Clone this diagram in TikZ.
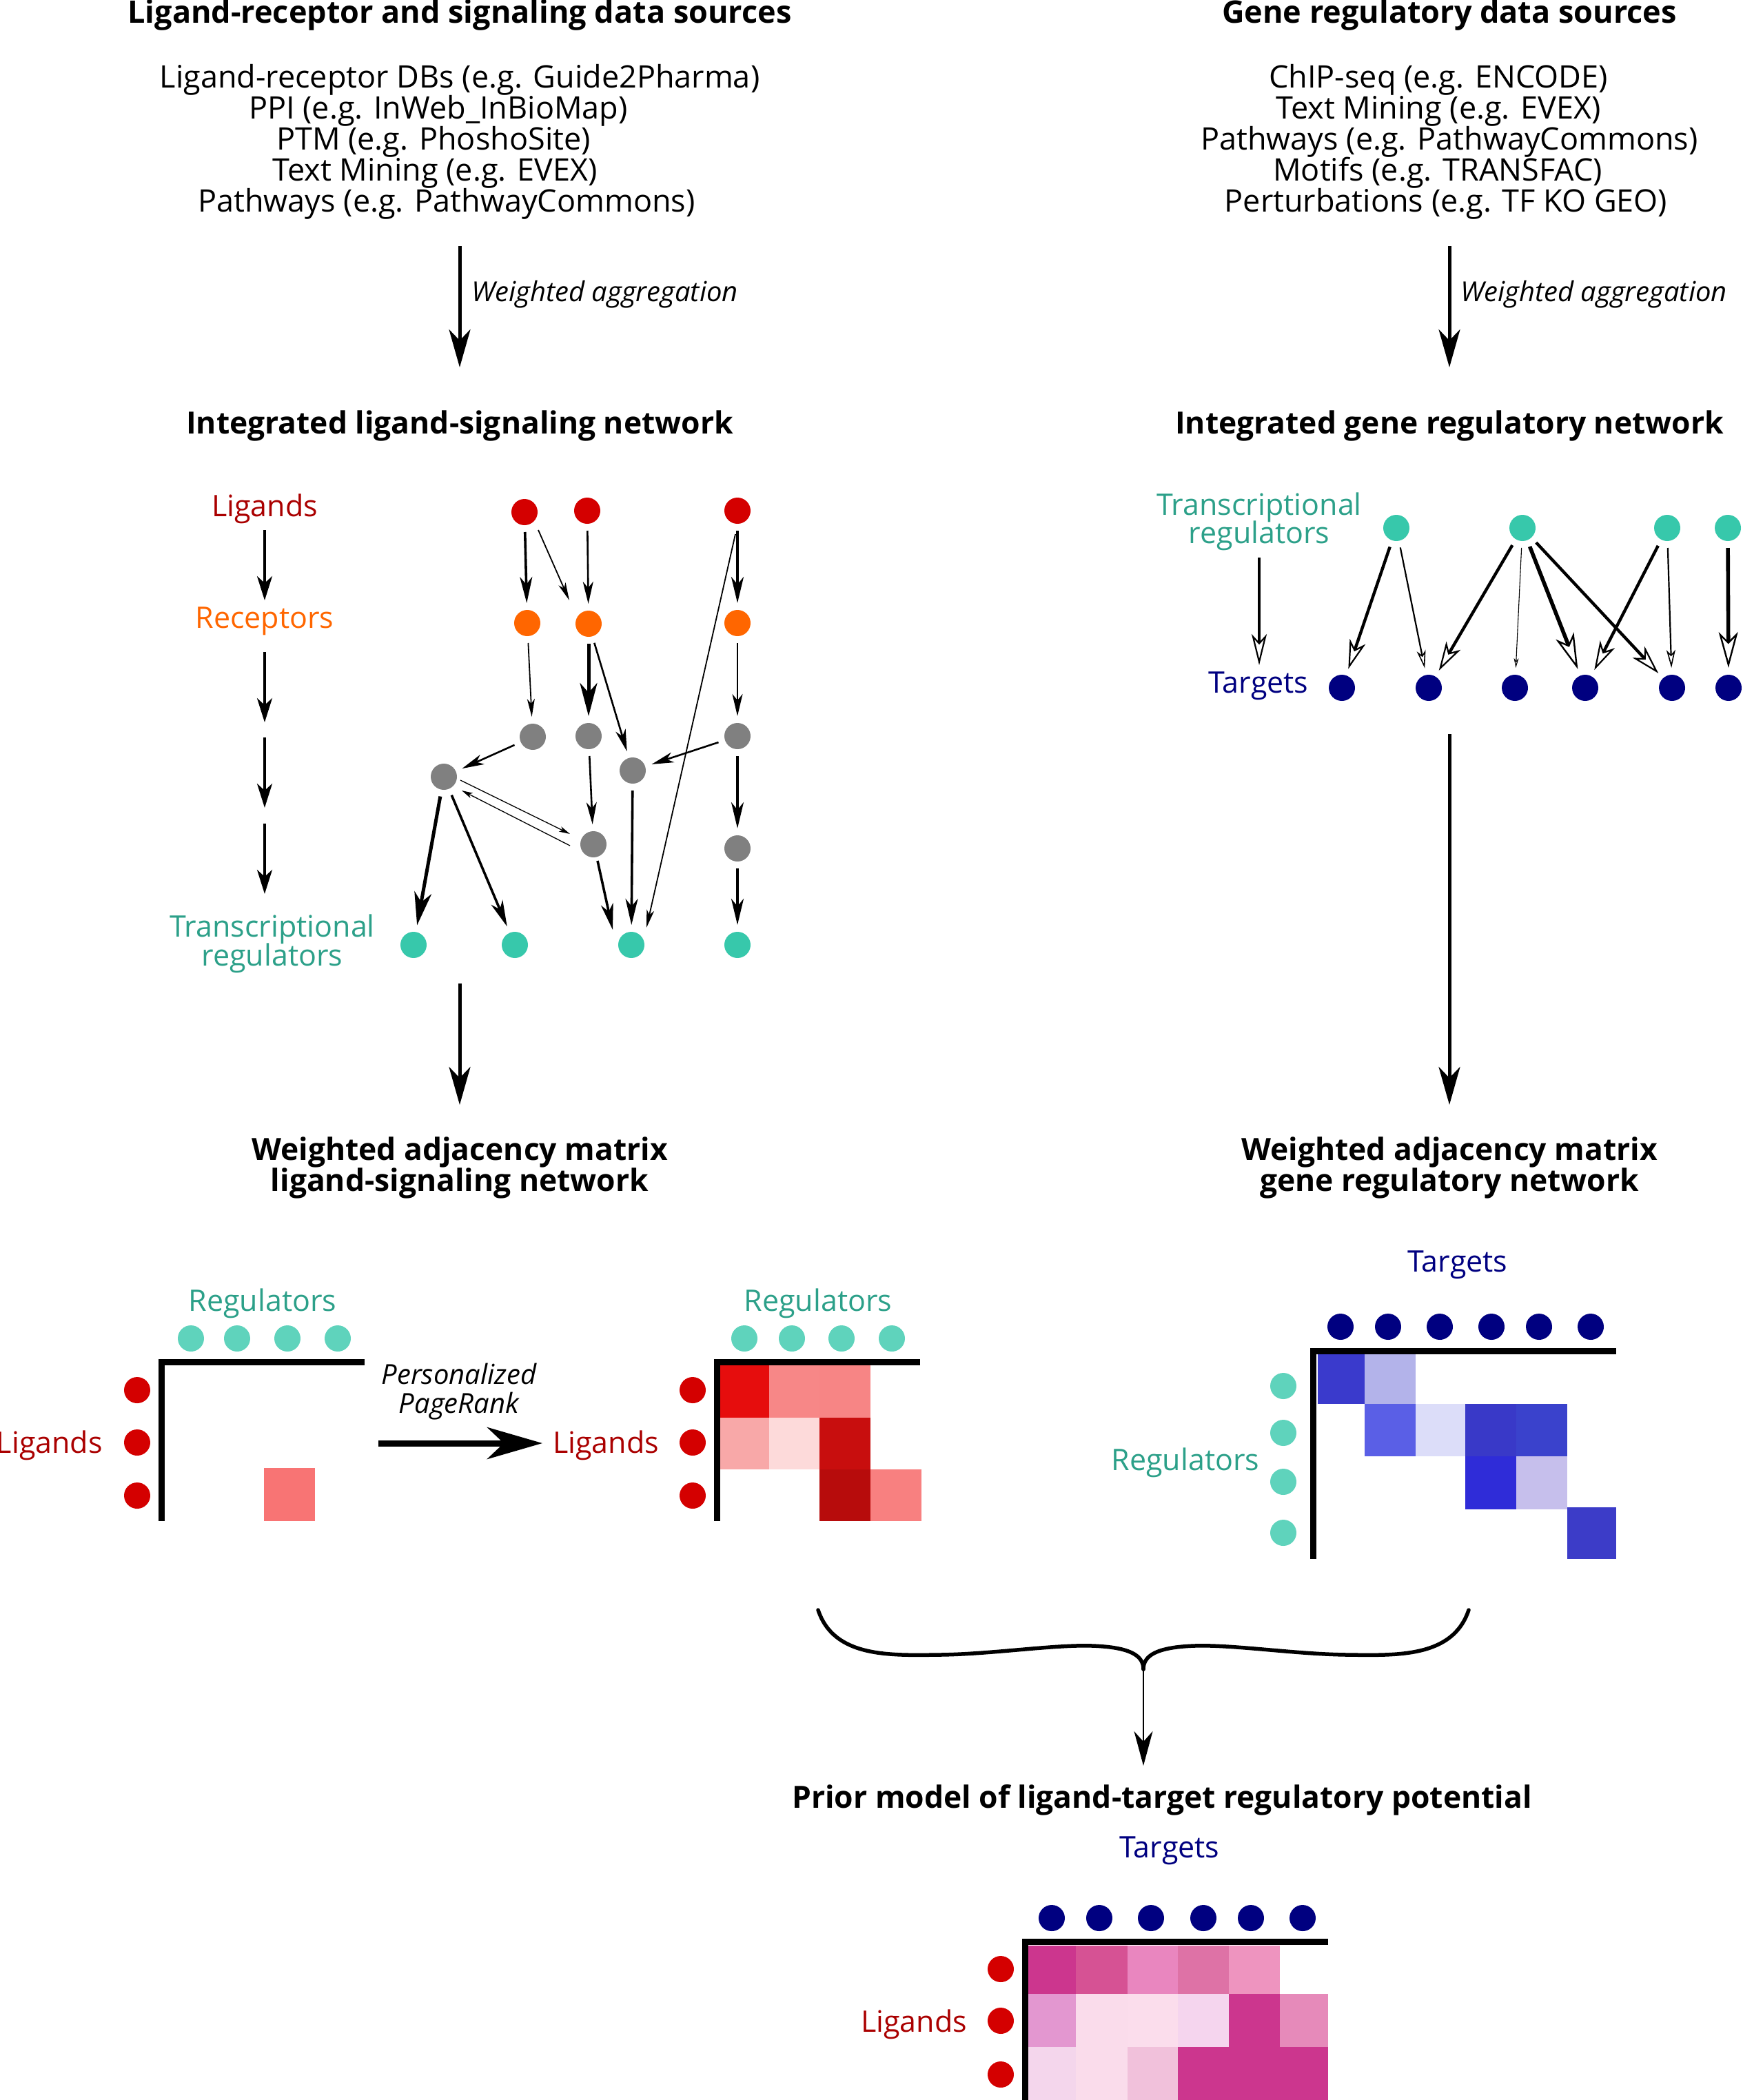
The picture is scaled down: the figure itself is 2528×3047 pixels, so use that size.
\documentclass[tikz,border=0pt]{standalone}
\usepackage{fontspec}
\setmainfont{Open Sans}
\usetikzlibrary{arrows.meta,calc}
\definecolor{lgred}{HTML}{D40000}
\definecolor{lgtxt}{HTML}{AA0000}
\definecolor{rcor}{HTML}{FF6600}
\definecolor{gnode}{HTML}{808080}
\definecolor{tfnode}{HTML}{37C8AB}
\definecolor{tftxt}{HTML}{2CA089}
\definecolor{tfdot}{HTML}{5FD3BC}
\definecolor{navyc}{HTML}{000080}
\newcommand\myfs{\fontsize{40pt}{45pt}\selectfont}
\newcommand\mylist{\fontsize{45pt}{48pt}\selectfont}
\newcommand\myhead{\fontsize{44.4pt}{48pt}\selectfont}
\newcommand\mytitle{\fontsize{45pt}{48pt}\selectfont}
\newcommand\mylab{\fontsize{43pt}{48pt}\selectfont}
\begin{document}
\begin{tikzpicture}[x=1pt,y=-1pt,
 txt/.style={inner sep=0pt, anchor=base, font=\mylist},
 ttl/.style={inner sep=0pt, anchor=base, font=\mytitle\bfseries},
 btxt/.style={inner sep=0pt, anchor=base, font=\myhead\bfseries},
 itxt/.style={inner sep=0pt, anchor=base, font=\myfs\itshape},
 lab/.style={inner sep=0pt, anchor=base, font=\mylab},
 dot/.style={circle, inner sep=0pt, minimum size=38pt, outer sep=10pt},
 mdot/.style={circle, inner sep=0pt, minimum size=38pt},
 bigarrow/.style={line width=5pt, arrows={-Stealth[length=55pt,width=31pt,inset=16pt]}},
 legarrow/.style={line width=3.4pt, arrows={-Stealth[length=35pt,width=22pt,inset=10pt]}},
 e0/.style={line width=1.3pt, arrows={-Stealth[length=16pt,width=8pt,inset=4pt]}},
 e1/.style={line width=1.8pt, arrows={-Stealth[length=26pt,width=11pt,inset=7pt]}},
 e2/.style={line width=2.6pt, arrows={-Stealth[length=32pt,width=15pt,inset=9pt]}},
 e3/.style={line width=3.6pt, arrows={-Stealth[length=38pt,width=18pt,inset=11pt]}},
 e4/.style={line width=5pt, arrows={-Stealth[length=48pt,width=25pt,inset=14pt]}},
 o1/.style={line width=1.1pt, arrows={-Stealth[length=14pt,width=7pt,inset=4pt,fill=white,line width=1.1pt]}},
 o2/.style={line width=2.2pt, arrows={-Stealth[length=26pt,width=13pt,inset=7pt,fill=white,line width=1.6pt]}},
 o3/.style={line width=4.4pt, arrows={-Stealth[length=42pt,width=24pt,inset=12pt,fill=white,line width=2.2pt]}},
 o4/.style={line width=5.6pt, arrows={-Stealth[length=52pt,width=28pt,inset=14pt,fill=white,line width=2.4pt]}},
 axis/.style={line width=9pt, line join=miter}
]
\useasboundingbox (0,0) rectangle (2528,3047);

% ---------- top left sources ----------
\node[ttl] (tl) at (667,33) {Ligand-receptor and signaling data sources};
\node[txt] (l1) at (667,127) {Ligand-receptor DBs (e.g. Guide2Pharma)};
\node[txt] (l2) at (636,172) {PPI (e.g. InWeb\_InBioMap)};
\node[txt] (l3) at (629,217) {PTM (e.g. PhoshoSite)};
\node[txt] (l4) at (631,262) {Text Mining (e.g. EVEX)};
\node[txt] (l5) at (648,307) {Pathways (e.g. PathwayCommons)};
\coordinate (wa1s) at (667,357);
\coordinate (wa1e) at (667,533);
\draw[bigarrow] (wa1s) -- (wa1e);
\node[itxt, anchor=base west] (wa1) at (684,437) {Weighted aggregation};
\node[btxt] (il) at (667,629) {Integrated ligand-signaling network};

% ---------- top right sources ----------
\node[ttl] (tr) at (2103,33) {Gene regulatory data sources};
\node[txt] (r1t) at (2087,127) {ChIP-seq (e.g. ENCODE)};
\node[txt] (r2t) at (2087,172) {Text Mining (e.g. EVEX)};
\node[txt] (r3t) at (2103,217) {Pathways (e.g. PathwayCommons)};
\node[txt] (r4t) at (2086,262) {Motifs (e.g. TRANSFAC)};
\node[txt] (r5t) at (2098,307) {Perturbations (e.g. TF KO GEO)};
\coordinate (wa2s) at (2103,357);
\coordinate (wa2e) at (2103,533);
\draw[bigarrow] (wa2s) -- (wa2e);
\node[itxt, anchor=base west] (wa2) at (2119,437) {Weighted aggregation};
\node[btxt] (ig) at (2103,629) {Integrated gene regulatory network};

% ---------- ligand-signaling network legend ----------
\node[lab, text=lgtxt] (lgL) at (384,749) {Ligands};
\node[lab, text=rcor] (rcL) at (384,911) {Receptors};
\node[lab, text=tftxt] (trL1) at (395,1359) {Transcriptional};
\node[lab, text=tftxt] (trL2) at (395,1401) {regulators};
\coordinate (la1) at (384,769); \coordinate (la2) at (384,871);
\coordinate (la3) at (384,946); \coordinate (la4) at (384,1048);
\coordinate (la5) at (384,1070); \coordinate (la6) at (384,1172);
\coordinate (la7) at (384,1195); \coordinate (la8) at (384,1297);
\draw[legarrow] (la1) -- (la2);
\draw[legarrow] (la3) -- (la4);
\draw[legarrow] (la5) -- (la6);
\draw[legarrow] (la7) -- (la8);

% ---------- ligand-signaling network nodes ----------
\node[dot, fill=lgred] (rd1) at (761,743) {};
\node[dot, fill=lgred] (rd2) at (852,741) {};
\node[dot, fill=lgred] (rd3) at (1070,741) {};
\node[dot, fill=rcor] (or1) at (765,904) {};
\node[dot, fill=rcor] (or2) at (854,905) {};
\node[dot, fill=rcor] (or3) at (1070,904) {};
\node[dot, fill=gnode] (g1) at (773,1069) {};
\node[dot, fill=gnode] (g2) at (854,1068) {};
\node[dot, fill=gnode] (g3) at (1070,1068) {};
\node[dot, fill=gnode] (g4) at (644,1127) {};
\node[dot, fill=gnode] (g5) at (918,1118) {};
\node[dot, fill=gnode] (g6) at (861,1225) {};
\node[dot, fill=gnode] (g7) at (1070,1231) {};
\node[dot, fill=tfnode] (tf1) at (600,1371) {};
\node[dot, fill=tfnode] (tf2) at (747,1371) {};
\node[dot, fill=tfnode] (tf3) at (916,1371) {};
\node[dot, fill=tfnode] (tf4) at (1070,1371) {};

\draw[e3] (rd1) -- (or1);
\draw[e1] ($(rd1)+(20,26)$) -- ($(or2)+(-28,-34)$);
\draw[e2] (rd2) -- (or2);
\draw[e3] (rd3) -- (or3);
\draw[e1] ($(rd3)+(-3,34)$) -- ($(tf3)+(22,-25)$);
\draw[e1] (or1) -- (g1);
\draw[e4] (or2) -- (g2);
\draw[e2] (or2) -- (g5);
\draw[e2] (or3) -- (g3);
\draw[e2] (g1) -- (g4);
\draw[e2] (g3) -- (g5);
\draw[e2] (g2) -- (g6);
\draw[e3] (g3) -- (g7);
\draw[e0] ($(g4)+(24,5)$) -- ($(g6)+(-34,-15)$);
\draw[e0] ($(g6)+(-34,2)$) -- ($(g4)+(26,20)$);
\draw[e4] (g4) -- (tf1);
\draw[e3] (g4) -- (tf2);
\draw[e3] ($(g6)+(6,24)$) -- ($(tf3)+(-27,-22)$);
\draw[e3] (g5) -- (tf3);
\draw[e3] (g7) -- (tf4);

% ---------- gene regulatory network ----------
\node[lab, text=tftxt] (gtr1) at (1827,747) {Transcriptional};
\node[lab, text=tftxt] (gtr2) at (1827,788) {regulators};
\node[lab, text=navyc] (gtg) at (1826,1005) {Targets};
\coordinate (ga1) at (1827,809); \coordinate (ga2) at (1827,965);
\draw[line width=3.6pt, arrows={-Stealth[length=45pt,width=22pt,inset=12pt,fill=white,line width=2.2pt]}] (ga1) -- (ga2);

\node[dot, fill=tfnode] (R1) at (2026,766) {};
\node[dot, fill=tfnode] (R2) at (2209,766) {};
\node[dot, fill=tfnode] (R3) at (2419,766) {};
\node[dot, fill=tfnode] (R4) at (2507,766) {};
\node[dot, fill=navyc] (T1) at (1947,998) {};
\node[dot, fill=navyc] (T2) at (2073,998) {};
\node[dot, fill=navyc] (T3) at (2198,998) {};
\node[dot, fill=navyc] (T4) at (2300,998) {};
\node[dot, fill=navyc] (T5) at (2426,998) {};
\node[dot, fill=navyc] (T6) at (2508,998) {};
\draw[o3] (R1) -- (T1);
\draw[o2] (R1) -- (T2);
\draw[o3] (R2) -- (T2);
\draw[o1] (R2) -- (T3);
\draw[o4] (R2) -- (T4);
\draw[o3] (R2) -- (T5);
\draw[o3] (R3) -- (T4);
\draw[o2] (R3) -- (T5);
\draw[o4] (R4) -- (T6);

% ---------- long arrows ----------
\coordinate (lls) at (667,1427); \coordinate (lle) at (667,1603);
\draw[bigarrow] (lls) -- (lle);
\coordinate (lrs) at (2103,1065); \coordinate (lre) at (2103,1603);
\draw[bigarrow] (lrs) -- (lre);

\node[btxt] (wl1) at (667,1683) {Weighted adjacency matrix};
\node[btxt] (wl2) at (667,1728) {ligand-signaling network};
\node[btxt] (wr1) at (2103,1683) {Weighted adjacency matrix};
\node[btxt] (wr2) at (2103,1728) {gene regulatory network};

% ---------- matrix 1 ----------
\node[lab, text=tftxt] (m1reg) at (381,1902) {Regulators};
\node[lab, text=lgtxt, anchor=base east] (m1lig) at (149,2108) {Ligands};
\foreach \x [count=\i] in {277,344,417,490} \node[mdot, fill=tfdot] (m1c\i) at (\x,1942) {};
\foreach \y [count=\i] in {2017,2093,2170} \node[mdot, fill=lgred] (m1r\i) at (199,\y) {};
\fill[fill={rgb,255:red,248;green,116;blue,116}] (383,2130) rectangle (457,2207);
\draw[axis] (529,1976) -- (234,1976) -- (234,2207);

\coordinate (prs) at (549,2094); \coordinate (pre) at (787,2094);
\draw[line width=9pt, arrows={-Stealth[length=80pt,width=46pt,inset=24pt]}] (prs) -- (pre);
\node[itxt] (pp1) at (666,2008) {Personalized};
\node[itxt] (pp2) at (666,2050) {PageRank};

% ---------- matrix 2 ----------
\node[lab, text=tftxt] (m2reg) at (1187,1902) {Regulators};
\node[lab, text=lgtxt] (m2lig) at (879,2108) {Ligands};
\foreach \x [count=\i] in {1080,1149,1221,1294} \node[mdot, fill=tfdot] (m2c\i) at (\x,1942) {};
\foreach \y [count=\i] in {2017,2093,2170} \node[mdot, fill=lgred] (m2r\i) at (1005,\y) {};
\fill[fill={rgb,255:red,230;green,13;blue,13}] (1044.6,1981) rectangle (1116,2056.7);
\fill[fill={rgb,255:red,247;green,135;blue,135}] (1116,1981) rectangle (1189,2056.7);
\fill[fill={rgb,255:red,247;green,133;blue,133}] (1189,1981) rectangle (1262.5,2056.7);
\fill[fill={rgb,255:red,248;green,168;blue,168}] (1044.6,2056.7) rectangle (1116,2132);
\fill[fill={rgb,255:red,253;green,218;blue,218}] (1116,2056.7) rectangle (1189,2132);
\fill[fill={rgb,255:red,200;green,14;blue,14}] (1189,2056.7) rectangle (1262.5,2132);
\fill[fill={rgb,255:red,183;green,12;blue,12}] (1189,2132) rectangle (1262.5,2207);
\fill[fill={rgb,255:red,248;green,128;blue,128}] (1262.5,2132) rectangle (1336.6,2207);
\draw[axis] (1335,1976) -- (1040,1976) -- (1040,2207);

% ---------- GRN matrix ----------
\node[lab, text=navyc] (m3tg) at (2115,1845) {Targets};
\node[lab, text=tftxt] (m3reg) at (1720,2133) {Regulators};
\foreach \x [count=\i] in {1945,2014,2089,2164,2233,2308} \node[mdot, fill=navyc] (m3c\i) at (\x,1925) {};
\foreach \y [count=\i] in {2011,2079,2150,2224} \node[mdot, fill=tfdot] (m3r\i) at (1862,\y) {};
\fill[fill={rgb,255:red,58;green,58;blue,204}] (1911.6,1965) rectangle (1979.5,2036.7);
\fill[fill={rgb,255:red,179;green,179;blue,234}] (1979.5,1965) rectangle (2053.5,2036.7);
\fill[fill={rgb,255:red,90;green,95;blue,230}] (1979.5,2036.7) rectangle (2053.5,2113);
\fill[fill={rgb,255:red,220;green,221;blue,249}] (2053.5,2036.7) rectangle (2126,2113);
\fill[fill={rgb,255:red,57;green,57;blue,200}] (2126,2036.7) rectangle (2200,2113);
\fill[fill={rgb,255:red,58;green,66;blue,204}] (2200,2036.7) rectangle (2274,2113);
\fill[fill={rgb,255:red,47;green,44;blue,216}] (2126,2113) rectangle (2200,2190);
\fill[fill={rgb,255:red,198;green,191;blue,236}] (2200,2113) rectangle (2274,2190);
\fill[fill={rgb,255:red,60;green,60;blue,200}] (2274,2187) rectangle (2345,2262);
\draw[axis] (2345,1960) -- (1905.5,1960) -- (1905.5,2262);

% ---------- brace ----------
\coordinate (bt) at (1659,2422);
\draw[line width=5.5pt, line cap=round] (1187,2336) .. controls (1210,2405) and (1290,2402) .. (1364,2401)
  .. controls (1440,2400) and (1530,2386) .. (1585,2388)
  .. controls (1640,2390) and (1659,2402) .. (bt);
\draw[line width=5.5pt, line cap=round] (2131,2336) .. controls (2108,2405) and (2028,2402) .. (1954,2401)
  .. controls (1878,2400) and (1788,2386) .. (1733,2388)
  .. controls (1678,2390) and (1659,2402) .. (bt);
\coordinate (be) at (1659,2562);
\draw[line width=2.6pt, arrows={-Stealth[length=50pt,width=27pt,inset=15pt]}] (bt) -- (be);

% ---------- prior model ----------
\node[btxt] (pm) at (1686,2623) {Prior model of ligand-target regulatory potential};
\node[lab, text=navyc] (m4tg) at (1697,2695) {Targets};
\node[lab, text=lgtxt] (m4lig) at (1326,2948) {Ligands};
\foreach \x [count=\i] in {1526,1595,1670,1746,1815,1890} \node[mdot, fill=navyc] (m4c\i) at (\x,2783) {};
\foreach \y [count=\i] in {2857,2932,3010} \node[mdot, fill=lgred] (m4r\i) at (1452,\y) {};
\def\ca{1491.8}\def\cb{1561}\def\cc{1636}\def\cd{1708.7}\def\ce{1782.6}\def\cf{1856.6}\def\cg{1927}
\fill[fill={rgb,255:red,204;green,54;blue,142}] (\ca,2822.7) rectangle (\cb,2893.3);
\fill[fill={rgb,255:red,214;green,82;blue,148}] (\cb,2822.7) rectangle (\cc,2893.3);
\fill[fill={rgb,255:red,233;green,134;blue,191}] (\cc,2822.7) rectangle (\cd,2893.3);
\fill[fill={rgb,255:red,222;green,114;blue,166}] (\cd,2822.7) rectangle (\ce,2893.3);
\fill[fill={rgb,255:red,238;green,148;blue,191}] (\ce,2822.7) rectangle (\cf,2893.3);
\fill[fill={rgb,255:red,227;green,151;blue,208}] (\ca,2893.3) rectangle (\cb,2970);
\fill[fill={rgb,255:red,250;green,220;blue,235}] (\cb,2893.3) rectangle (\cc,2970);
\fill[fill={rgb,255:red,251;green,221;blue,236}] (\cc,2893.3) rectangle (\cd,2970);
\fill[fill={rgb,255:red,245;green,213;blue,238}] (\cd,2893.3) rectangle (\ce,2970);
\fill[fill={rgb,255:red,204;green,54;blue,142}] (\ce,2893.3) rectangle (\cf,2970);
\fill[fill={rgb,255:red,230;green,138;blue,186}] (\cf,2893.3) rectangle (\cg,2970);
\fill[fill={rgb,255:red,244;green,214;blue,236}] (\ca,2970) rectangle (\cb,3060);
\fill[fill={rgb,255:red,250;green,220;blue,235}] (\cb,2970) rectangle (\cc,3060);
\fill[fill={rgb,255:red,241;green,193;blue,219}] (\cc,2970) rectangle (\cd,3060);
\fill[fill={rgb,255:red,204;green,54;blue,142}] (\cd,2970) rectangle (\cg,3060);
\draw[axis] (1927,2817) -- (1487,2817) -- (1487,3060);
\end{tikzpicture}
\end{document}
